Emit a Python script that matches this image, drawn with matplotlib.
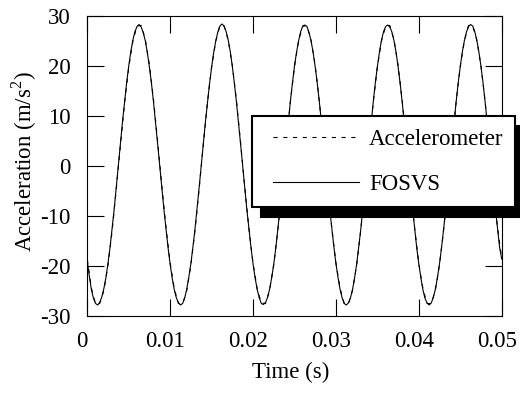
import numpy as np
import matplotlib
matplotlib.use("Agg")
import matplotlib.pyplot as plt
from matplotlib.transforms import ScaledTranslation
from matplotlib.legend_handler import HandlerLine2D

# FOSVS samples every 0.25 ms, 0 .. 0.05 s
fosvs = [
    -19.0, -22.1, -24.8, -26.5, -27.5, -27.8, -27.3, -26.2, -24.5, -22.3,
    -19.4, -16.2, -12.4, -8.5, -4.1, 0.2, 4.6, 8.9, 12.9, 16.7,
    20.0, 22.9, 25.2, 26.9, 27.9, 28.3, 27.8, 26.7, 25.0, 22.6,
    19.7, 16.4, 12.6, 8.5, 4.2, -0.1, -4.5, -8.8, -12.7, -16.4,
    -19.7, -22.5, -24.8, -26.4, -27.4, -27.8, -27.5, -26.4, -24.6, -22.2,
    -19.5, -16.1, -12.5, -8.4, -4.2, 0.1, 4.5, 8.8, 12.7, 16.5,
    19.8, 22.7, 25.0, 26.8, 28.0, 28.4, 28.0, 26.9, 25.2, 22.9,
    19.9, 16.5, 12.7, 8.6, 4.3, 0.0, -4.4, -8.7, -12.6, -16.3,
    -19.6, -22.4, -24.7, -26.4, -27.5, -27.7, -27.3, -26.3, -24.6, -22.3,
    -19.6, -16.3, -12.5, -8.6, -4.3, 0.1, 4.4, 8.7, 12.9, 16.6,
    20.0, 22.8, 25.1, 26.9, 28.0, 28.2, 27.9, 26.7, 25.0, 22.7,
    19.8, 16.5, 12.8, 8.7, 4.3, -0.1, -4.4, -8.6, -12.5, -16.2,
    -19.5, -22.3, -24.7, -26.4, -27.5, -27.8, -27.4, -26.4, -24.7, -22.4,
    -19.6, -16.2, -12.6, -8.5, -4.3, 0.0, 4.4, 8.8, 12.8, 16.6,
    19.9, 22.8, 25.2, 26.9, 27.9, 28.2, 27.8, 26.8, 25.1, 22.8,
    19.8, 16.5, 12.7, 8.6, 4.4, 0.0, -4.3, -8.6, -12.6, -16.4,
    -19.6, -22.4, -24.8, -26.5, -27.4, -27.8, -27.4, -26.3, -24.6, -22.3,
    -19.5, -16.2, -12.5, -8.5, -4.2, 0.1, 4.5, 8.8, 12.8, 16.6,
    19.9, 22.8, 25.1, 26.8, 27.9, 28.3, 28.0, 26.9, 25.1, 22.8,
    19.9, 16.6, 12.8, 8.7, 4.4, 0.0, -4.4, -8.7, -12.6, -16.3,
    -18.6,
]

# accelerometer samples every 0.5 ms
accel = [
    -18.7, -24.5, -27.6, -27.5, -24.9, -19.8, -12.9, -4.6, 4.2, 12.6,
    19.7, 25.0, 28.0, 28.1, 25.3, 20.2, 13.1, 4.7, -4.1, -12.4,
    -19.4, -24.6, -27.5, -27.6, -24.9, -19.8, -12.8, -4.5, 4.3, 12.7,
    19.8, 25.0, 28.1, 28.0, 25.2, 20.1, 13.0, 4.6, -4.2, -12.5,
    -19.5, -24.6, -27.4, -27.5, -24.8, -19.7, -12.7, -4.4, 4.4, 12.8,
    19.9, 25.1, 28.0, 28.0, 25.2, 20.0, 12.9, 4.5, -4.2, -12.4,
    -19.4, -24.5, -27.5, -27.6, -24.9, -19.8, -12.8, -4.5, 4.3, 12.7,
    19.8, 25.0, 28.0, 28.1, 25.3, 20.1, 13.0, 4.6, -4.1, -12.5,
    -19.5, -24.6, -27.5, -27.5, -24.8, -19.7, -12.7, -4.4, 4.4, 12.8,
    19.9, 25.1, 28.1, 28.0, 25.2, 20.0, 12.9, 4.5, -4.3, -12.5,
    -18.4,
]

t_fosvs = np.linspace(0, 0.05, len(fosvs))
t_accel = np.linspace(0, 0.05, len(accel))

xticks = [0, 0.01, 0.02, 0.03, 0.04, 0.05]
xtick_labels = ["0", "0.01", "0.02", "0.03", "0.04", "0.05"]
yticks = [-30, -20, -10, 0, 10, 20, 30]

plt.rcParams['font.family'] = ['Liberation Serif', 'DejaVu Serif']
plt.rcParams['mathtext.fontset'] = 'custom'
plt.rcParams['mathtext.rm'] = 'Liberation Serif'
plt.rcParams['lines.scale_dashes'] = False
plt.rcParams['axes.unicode_minus'] = False

fig = plt.figure(figsize=(5.2, 3.97), dpi=100)
ax = fig.add_axes([87.3 / 520, 81 / 397, 414.4 / 520, 300 / 397])

ax.plot(t_accel, accel, color='black', lw=0.8, dashes=(3, 4), label='Accelerometer')
ax.plot(t_fosvs, fosvs, color='black', lw=0.8, label='FOSVS')

ax.set_xlim(0, 0.05)
ax.set_ylim(-30, 30)
ax.set_xticks(xticks)
ax.set_xticklabels(xtick_labels)
ax.set_yticks(yticks)

for s in ax.spines.values():
    s.set_linewidth(0.8)
ax.tick_params(direction='in', length=12, width=0.8, top=True, right=True, labelsize=16.5)
ax.tick_params(axis='x', pad=11)
ax.tick_params(axis='y', pad=12)

# x labels in the original sit a few pixels left of their ticks
shift = ScaledTranslation(-0.05, 0, fig.dpi_scale_trans)
for lab in ax.get_xticklabels():
    lab.set_transform(lab.get_transform() + shift)

ax.set_xlabel('Time (s)', fontsize=16.5)
ax.set_ylabel('Acceleration (m/s$^2$)', fontsize=16.5)
ax.xaxis.set_label_coords(0.491, -0.153)
ax.yaxis.set_label_coords(-0.116, 0.515)

leg = ax.legend(loc='upper left', bbox_to_anchor=(0.398, 0.363, 0.635, 0.304), mode='expand',
                borderaxespad=0, fontsize=16.5, handlelength=4.1, handletextpad=0.45,
                borderpad=0.55, labelspacing=1.05, fancybox=False, edgecolor='black',
                framealpha=1, handler_map={plt.Line2D: HandlerLine2D(xpad=0.35)},
                shadow={'color': 'black', 'alpha': 1, 'ox': 6, 'oy': -7})
leg.get_frame().set_linewidth(1.5)

fig.savefig('out.png', dpi=100)
